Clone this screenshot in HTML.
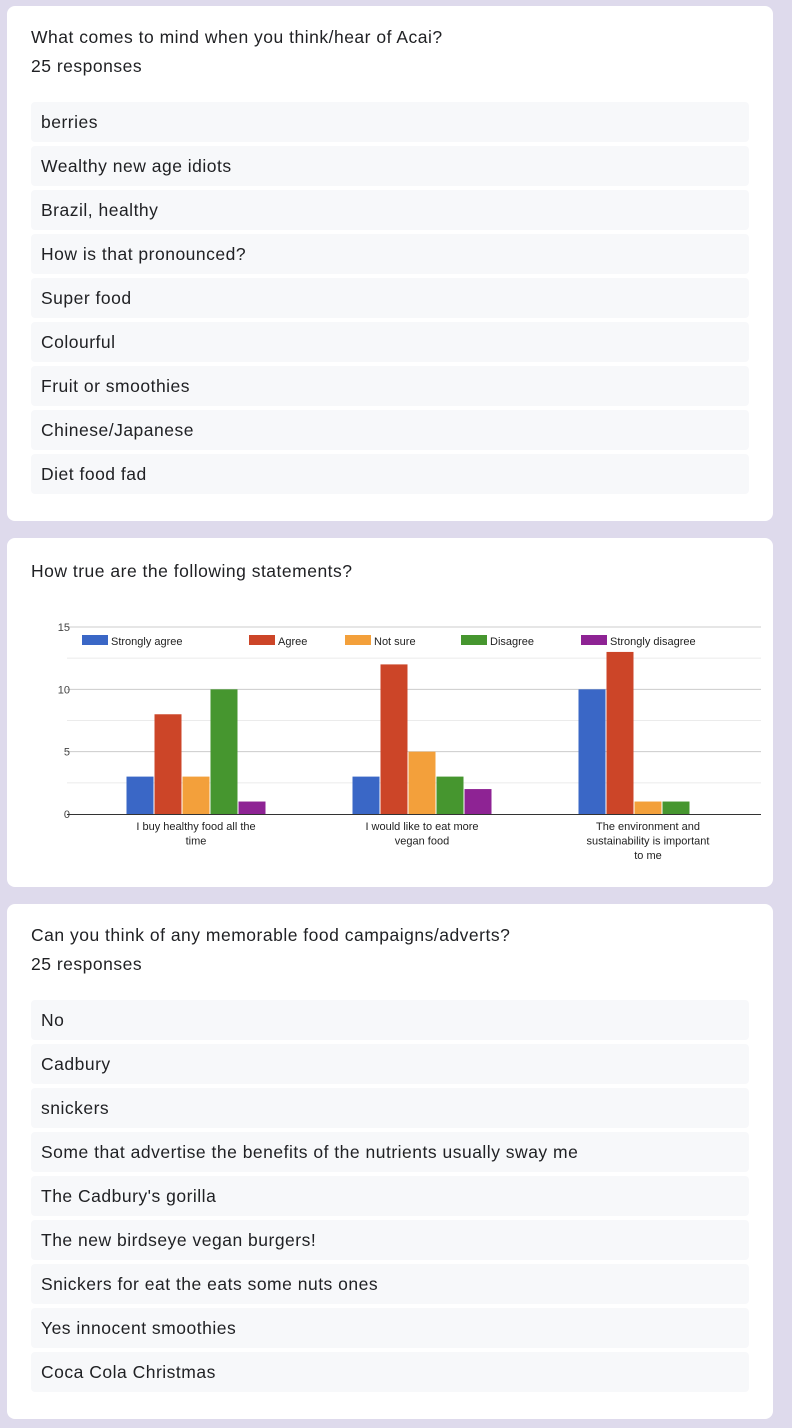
<!DOCTYPE html>
<html><head><meta charset="utf-8"><style>
body{margin:0;width:792px;height:1428px;background:#dedaec;font-family:"Liberation Sans",Arial,sans-serif;position:relative;overflow:hidden}
.card{position:absolute;left:7px;width:766px;background:#fff;border-radius:8px}
.q{position:absolute;left:24px;font-size:17.5px;color:#202124;letter-spacing:0.5px}
.item{position:absolute;left:24px;width:718px;height:40px;background:#f7f8fa;border-radius:4px;font-size:17.5px;color:#202124;line-height:40px;text-indent:10px;letter-spacing:0.5px}
svg text{font-family:"Liberation Sans",Arial,sans-serif}
</style></head><body>
<div class="card" style="top:6px;height:515px">
<div class="q" style="top:21px">What comes to mind when you think/hear of Acai?</div>
<div class="q" style="top:50px">25 responses</div>
<div id="list1"></div>
</div>
<div class="card" style="top:538px;height:349px">
<div class="q" style="top:23px">How true are the following statements?</div>
</div>
<svg id="chart" width="792" height="1428" style="position:absolute;left:0;top:0;pointer-events:none"></svg>
<div class="card" style="top:904px;height:515px">
<div class="q" style="top:21px">Can you think of any memorable food campaigns/adverts?</div>
<div class="q" style="top:50px">25 responses</div>
<div id="list2"></div>
</div>
<script>
const answers1=["berries","Wealthy new age idiots","Brazil, healthy","How is that pronounced?","Super food","Colourful","Fruit or smoothies","Chinese/Japanese","Diet food fad"];
const answers2=["No","Cadbury","snickers","Some that advertise the benefits of the nutrients usually sway me","The Cadbury's gorilla","The new birdseye vegan burgers!","Snickers for eat the eats some nuts ones","Yes innocent smoothies","Coca Cola Christmas"];
function fill(id,arr){const c=document.getElementById(id);arr.forEach((t,i)=>{const d=document.createElement('div');d.className='item';d.style.top=(96+i*44)+'px';d.textContent=t;


c.appendChild(d);});}
fill('list1',answers1);fill('list2',answers2);

const categories=[["I buy healthy food all the","time"],["I would like to eat more","vegan food"],["The environment and","sustainability is important","to me"]];
const seriesNames=["Strongly agree","Agree","Not sure","Disagree","Strongly disagree"];
const stronglyAgree=[3,3,10];
const agree=[8,12,13];
const notSure=[3,5,1];
const disagree=[10,3,1];
const stronglyDisagree=[1,2,0];
const yTicks=[0,5,10,15];
const series=[stronglyAgree,agree,notSure,disagree,stronglyDisagree];
const colors=["#3a67c6","#cc4528","#f3a03b","#46962f","#8e2394"];
const svg=document.getElementById('chart');const NS='http://www.w3.org/2000/svg';
function el(tag,attrs){const e=document.createElementNS(NS,tag);for(const k in attrs)e.setAttribute(k,attrs[k]);svg.appendChild(e);return e;}
const x0=67,x1=761,y0=814,yMax=15,ph=187;
const y=v=>y0-v/yMax*ph;
const bandL=83,bandW=226,barW=27;
const bx=(ci,si)=>bandL+ci*bandW+(bandW-5*barW-4)/2+si*(barW+1);
for(let v=2.5;v<yMax;v+=5){const g=el('line',{x1:x0,x2:x1,y1:y(v),y2:y(v),stroke:'#ebebeb'});}
yTicks.forEach(t=>{if(t>0){const g=el('line',{x1:x0,x2:x1,y1:y(t),y2:y(t),stroke:'#cccccc'});}
const tx=el('text',{x:70,y:y(t)+4,'font-size':11,'text-anchor':'end',fill:'#444'});tx.textContent=t;

});
series.forEach((s,si)=>s.forEach((v,ci)=>{if(v<=0)return;const r=el('rect',{x:bx(ci,si),y:y(v),width:barW,height:y0-y(v),fill:colors[si]});

}));
const ax=el('line',{x1:x0,x2:x1,y1:y0+0.5,y2:y0+0.5,stroke:'#333'});


categories.forEach((lines,ci)=>lines.forEach((ln,li)=>{const t=el('text',{x:bandL+ci*bandW+bandW/2,y:830+li*14.5,'font-size':11,'text-anchor':'middle',fill:'#222'});t.textContent=ln;

}));
const legX=[82,249,345,461,581];
seriesNames.forEach((n,i)=>{const r=el('rect',{x:legX[i],y:635,width:26,height:10,fill:colors[i]});


const t=el('text',{x:legX[i]+29,y:645,'font-size':11,fill:'#222'});t.textContent=n;

});
</script>
</body></html>
